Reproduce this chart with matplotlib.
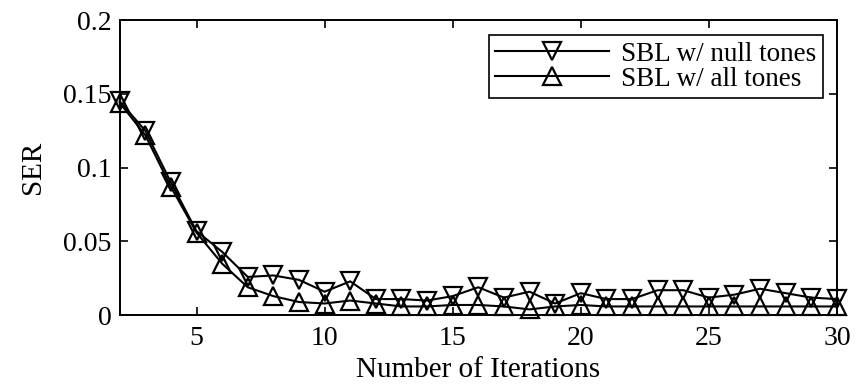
import matplotlib
matplotlib.use("Agg")
import matplotlib.pyplot as plt

plt.rcParams["font.family"] = ["Liberation Serif", "DejaVu Serif"]

iterations = list(range(2, 31))
ser_null_tones = [0.145, 0.125, 0.090, 0.057, 0.043, 0.026, 0.027, 0.024, 0.016, 0.023,
                  0.011, 0.011, 0.010, 0.013, 0.019, 0.012, 0.016, 0.008, 0.015, 0.011,
                  0.011, 0.017, 0.017, 0.012, 0.014, 0.018, 0.015, 0.012, 0.011]
ser_all_tones = [0.144, 0.122, 0.087, 0.056, 0.035, 0.019, 0.013, 0.009, 0.008, 0.010,
                 0.008, 0.006, 0.006, 0.007, 0.007, 0.006, 0.004, 0.006, 0.007, 0.006,
                 0.006, 0.006, 0.006, 0.006, 0.006, 0.006, 0.006, 0.006, 0.006]
x_ticks = [5, 10, 15, 20, 25, 30]
y_ticks = [0, 0.05, 0.1, 0.15, 0.2]
y_tick_labels = ["0", "0.05", "0.1", "0.15", "0.2"]

fig = plt.figure(figsize=(8.61, 3.85), dpi=100)
ax = fig.add_axes([0.139, 0.181, 0.833, 0.767])

style = dict(color="black", linewidth=1.5, markersize=12.5, markerfacecolor="none",
             markeredgecolor="black", markeredgewidth=1.6, clip_on=False)
ax.plot(iterations, ser_null_tones, marker="v", label="SBL w/ null tones", **style)
ax.plot(iterations, ser_all_tones, marker="^", label="SBL w/ all tones", **style)

ax.set_xlim(2, 30)
ax.set_ylim(0, 0.2)
ax.set_xticks(x_ticks)
ax.set_yticks(y_ticks)
ax.set_yticklabels(y_tick_labels)
ax.tick_params(direction="in", top=True, right=True, length=6, width=1.2,
               labelsize=20, pad=6)
ax.tick_params(axis="x", pad=8)
for spine in ax.spines.values():
    spine.set_linewidth(1.4)

ax.set_xlabel("Number of Iterations", fontsize=21, labelpad=4)
ax.set_ylabel("SER", fontsize=21, labelpad=12)

leg = ax.legend(loc="upper right", fontsize=19.5, fancybox=False, framealpha=1,
                edgecolor="black", borderpad=0.25, labelspacing=0.0,
                handlelength=4.2, handletextpad=0.45, borderaxespad=0,
                bbox_to_anchor=(0.981, 0.95))
leg.get_frame().set_linewidth(1.2)

fig.savefig("out.png", dpi=100)
